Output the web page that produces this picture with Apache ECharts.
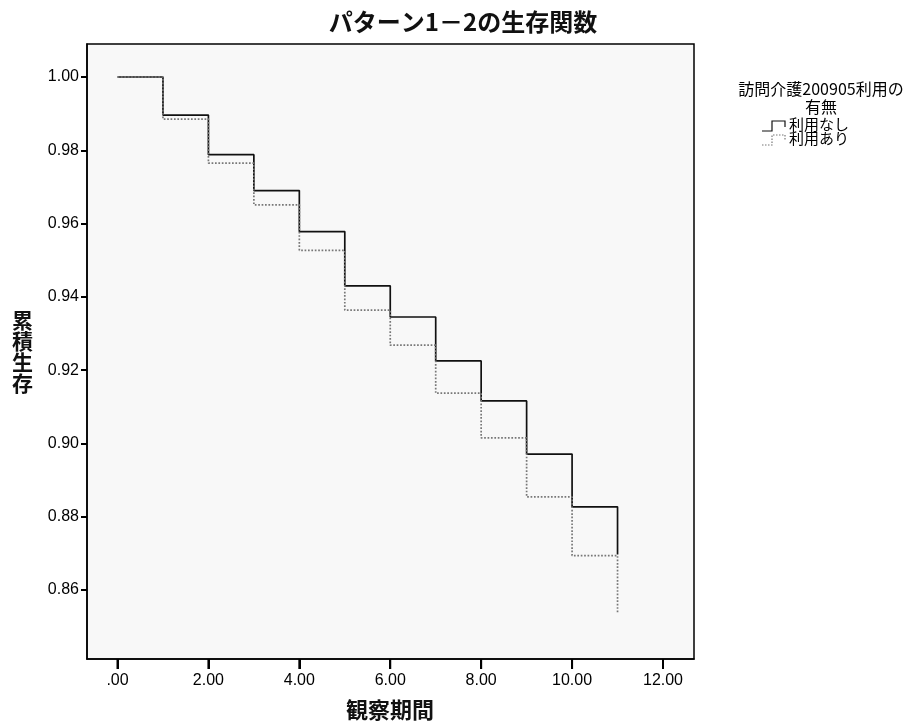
<!DOCTYPE html>
<html>
<head>
<meta charset="utf-8">
<script src="https://cdn.jsdelivr.net/npm/echarts@6/dist/echarts.min.js"></script>
<style>html,body{margin:0;padding:0;background:#fff}#c{width:907px;height:726px}</style>
</head>
<body>
<div id="c"></div>
<script>
var titleText = 'パターン1－2の生存関数';
var xName = '観察期間';
var yName = '累積生存';
var legendTitle = ['訪問介護200905利用の', '有無'];
var seriesNames = ['利用なし', '利用あり'];
var times = [0, 1, 2, 3, 4, 5, 6, 7, 8, 9, 10, 11];
var survNone = [1.0, 0.9896, 0.9788, 0.9690, 0.9578, 0.9430, 0.9345, 0.9225, 0.9116, 0.8971, 0.8827, 0.8697];
var survUsed = [1.0, 0.9885, 0.9765, 0.9651, 0.9527, 0.9364, 0.9268, 0.9137, 0.9015, 0.8854, 0.8694, 0.8537];
var xTicks = [0, 2, 4, 6, 8, 10, 12];
var yTicks = [0.86, 0.88, 0.90, 0.92, 0.94, 0.96, 0.98, 1.00];

var X_MIN = -0.671, X_MAX = 12.682, Y_MIN = 0.84117, Y_MAX = 1.0090;

function pairs(xs, ys) { return xs.map(function (x, i) { return [x, ys[i]]; }); }

var chart = echarts.init(document.getElementById('c'), null, {renderer: 'canvas'});
var labelFont = {fontFamily: 'Liberation Sans, Arial, sans-serif', fontSize: 16, color: '#000'};
var cjk = 'Noto Sans CJK JP, sans-serif';

chart.setOption({
  backgroundColor: '#fff',
  animation: false,
  title: {
    text: titleText, left: 458, top: 5, textAlign: 'center',
    textStyle: {fontFamily: cjk, fontSize: 24, fontWeight: 'bold', color: '#111'}
  },
  grid: {left: 87, top: 44, width: 607, height: 615, show: true,
    backgroundColor: '#f8f8f8', borderColor: '#000', borderWidth: 1.5},
  xAxis: {
    type: 'value', min: X_MIN, max: X_MAX,
    axisLine: {show: true, onZero: false, lineStyle: {color: '#000', width: 1.5}},
    axisTick: {show: true, inside: false, length: 10, lineStyle: {color: '#000', width: 2}, customValues: xTicks},
    axisLabel: Object.assign({margin: 14, customValues: xTicks, formatter: function (v) {
      var s = v.toFixed(2); return s.charAt(0) === '0' ? s.slice(1) : s; }}, labelFont),
    splitLine: {show: false}
  },
  yAxis: {
    type: 'value', min: Y_MIN, max: Y_MAX,
    axisLine: {show: true, onZero: false, lineStyle: {color: '#000', width: 1.5}},
    axisTick: {show: true, inside: false, length: 6, lineStyle: {color: '#000', width: 2}, customValues: yTicks},
    axisLabel: Object.assign({margin: 8, customValues: yTicks, formatter: function (v) { return v.toFixed(2); }}, labelFont),
    splitLine: {show: false}
  },
  series: [
    {name: seriesNames[0], type: 'line', step: 'end', data: pairs(times, survNone), symbol: 'none',
      lineStyle: {color: '#111', width: 1.7, type: 'solid'}},
    {name: seriesNames[1], type: 'line', step: 'end', data: pairs(times, survUsed), symbol: 'none',
      lineStyle: {color: '#777', width: 1.7, type: 'dotted'}},
    {type: 'custom', silent: true, clip: false, z: 10,
      data: xTicks.map(function (v) { return [v, Y_MIN]; }),
      renderItem: function (params, api) {
        var p = api.coord([api.value(0), api.value(1)]);
        return {type: 'rect', shape: {x: p[0] - 1, y: p[1], width: 2, height: 10},
          style: {fill: '#000'}};
      }}
  ],
  graphic: [
    {type: 'text', left: 12, top: 310, style: {text: yName.split('').join('\n'), font: 'bold 21px ' + cjk, fill: '#111', lineHeight: 21}},
    {type: 'text', x: 390, y: 699, style: {text: xName, font: 'bold 22px ' + cjk, fill: '#111', textAlign: 'center'}},
    {type: 'text', x: 821, y: 81, style: {text: legendTitle[0], font: '16px ' + cjk, fill: '#000', textAlign: 'center'}},
    {type: 'text', x: 821, y: 99, style: {text: legendTitle[1], font: '16px ' + cjk, fill: '#000', textAlign: 'center'}},
    {type: 'polyline', shape: {points: [[762, 131], [772, 131], [772, 121], [785, 121], [785, 127]]}, style: {stroke: '#111', lineWidth: 1.2, fill: null}},
    {type: 'text', x: 789, y: 117, style: {text: seriesNames[0], font: '15px ' + cjk, fill: '#000'}},
    {type: 'polyline', shape: {points: [[762, 145], [772, 145], [772, 135], [785, 135], [785, 141]]}, style: {stroke: '#777', lineWidth: 1.2, fill: null, lineDash: [1.5, 1.5]}},
    {type: 'text', x: 789, y: 131, style: {text: seriesNames[1], font: '15px ' + cjk, fill: '#000'}}
  ]
});
</script>
</body>
</html>
